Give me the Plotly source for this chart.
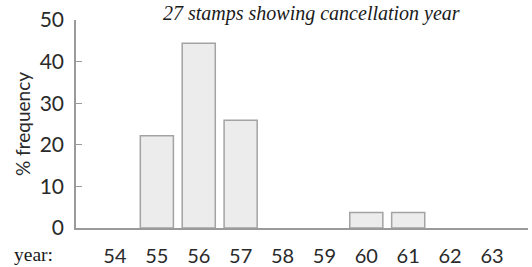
import plotly.graph_objects as go

years = [54, 55, 56, 57, 58, 59, 60, 61, 62, 63]
pct_frequency = [0, 22.2, 44.4, 25.9, 0, 0, 3.7, 3.7, 0, 0]
y_ticks = [0, 10, 20, 30, 40, 50]
title_text = "27 stamps showing cancellation year"

SERIF = "Liberation Serif"
SANS = "Lato"
AXIS = "#9a9a9a"
TXT = "#2a2a2a"

fig = go.Figure()
fig.add_trace(go.Bar(
    x=years, y=pct_frequency, width=0.79,
    marker=dict(color="#ececec",
                line=dict(color="#a3a3a3", width=[1.5 if v > 0 else 0 for v in pct_frequency])),
))

fig.update_layout(
    width=532, height=267,
    margin=dict(l=76, r=4, t=20, b=39),
    paper_bgcolor="white", plot_bgcolor="white",
    showlegend=False,
    font=dict(family=SANS, size=20, color=TXT),
)
fig.update_xaxes(
    range=[53.07, 63.86], tickmode="array", tickvals=years,
    ticktext=[str(y) for y in years], showgrid=False, zeroline=False,
    showline=True, linecolor=AXIS, linewidth=1.5, ticks="",
    ticklabelstandoff=9, automargin=False,
    tickfont=dict(family=SANS, size=20, color=TXT),
)
fig.update_yaxes(
    range=[0, 50], tickvals=y_ticks, showgrid=False, zeroline=False,
    showline=True, linecolor=AXIS, linewidth=1.5,
    ticks="inside", ticklen=6, tickcolor=AXIS, tickwidth=1.2,
    ticklabelstandoff=6, automargin=False,
    tickfont=dict(family=SANS, size=21, color=TXT),
    title=dict(text="% frequency", font=dict(family=SANS, size=19, color=TXT), standoff=4),
)
fig.add_annotation(x=0.52, y=1.0, xref="paper", yref="paper", yshift=7,
                   text="<i>" + title_text + "</i>", showarrow=False,
                   font=dict(family=SERIF, size=20, color="#1a1a1a"), yanchor="middle")
fig.add_annotation(x=-0.141, y=-0.125, xref="paper", yref="paper",
                   text="year:", showarrow=False, xanchor="left",
                   font=dict(family=SERIF, size=19.5, color="#1a1a1a"), yanchor="middle")

fig.write_html("out.html", config={"displayModeBar": False},
               post_script="document.body.style.margin='0';")
